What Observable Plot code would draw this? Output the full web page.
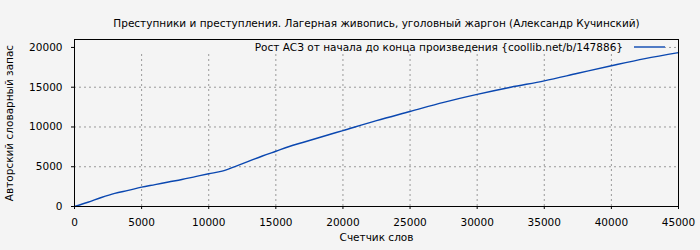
<!DOCTYPE html>
<html>
<head>
<meta charset="utf-8">
<script src="https://cdn.jsdelivr.net/npm/d3@7"></script>
<script src="https://cdn.jsdelivr.net/npm/@observablehq/plot@0.6"></script>
<style>
  html, body { margin: 0; padding: 0; background: #f4f4f4; }
</style>
</head>
<body>
<div id="chart"></div>
<script>
const title = "Преступники и преступления. Лагерная живопись, уголовный жаргон (Александр Кучинский)";
const seriesLabel = "Рост АСЗ от начала до конца произведения {coollib.net/b/147886}";
const xLabel = "Счетчик слов";
const yLabel = "Авторский словарный запас";

const words = [0, 1000, 2000, 3000, 4000, 5000, 6000, 7000, 8000, 9000, 10000, 11000, 12000, 13000, 14000, 15000, 16000, 17000, 18000, 19000, 20000, 22500, 25000, 27500, 30000, 32500, 35000, 37500, 40000, 42500, 45000];
const vocab = [0, 530, 1130, 1650, 2030, 2430, 2750, 3080, 3400, 3760, 4120, 4450, 5050, 5700, 6350, 6950, 7550, 8050, 8550, 9050, 9550, 10800, 11950, 13100, 14100, 15000, 15800, 16750, 17700, 18600, 19350];

const xTicks = [0, 5000, 10000, 15000, 20000, 25000, 30000, 35000, 40000, 45000];
const yTicks = [0, 5000, 10000, 15000, 20000];

const lineColor = "#0a47b0";
const bg = "#f4f4f4";

const data = words.map((w, i) => ({w, v: vocab[i]}));

function legendMark() {
  return (index, scales, values, dims) => {
    const g = d3.create("svg:g");
    const x1 = dims.marginLeft, x2 = dims.width - dims.marginRight;
    const top = dims.marginTop;
    g.append("rect")
      .attr("x", x1 + 1).attr("y", top + 1)
      .attr("width", x2 - 13 - x1 - 1).attr("height", 14)
      .attr("fill", bg);
    g.append("line")
      .attr("x1", x2 - 44).attr("x2", x2 - 13)
      .attr("y1", top + 8).attr("y2", top + 8)
      .attr("stroke", lineColor).attr("stroke-width", 1.4);
    g.append("text")
      .attr("x", x2 - 55).attr("y", top + 8)
      .attr("dy", "0.35em")
      .attr("text-anchor", "end")
      .attr("fill", "#000")
      .text(seriesLabel);
    return g.node();
  };
}

const fmt = d => String(d);

const chart = Plot.plot({
  width: 700,
  height: 250,
  marginTop: 39,
  marginBottom: 44,
  marginLeft: 74,
  marginRight: 22,
  style: {background: bg, fontFamily: "DejaVu Sans", fontSize: "10.5px", color: "#000"},
  x: {domain: [0, 45000], label: null},
  y: {domain: [0, 21000], label: null},
  marks: [
    Plot.gridX(xTicks, {stroke: "#999", strokeOpacity: 1, strokeDasharray: "2,3"}),
    Plot.gridY(yTicks, {stroke: "#999", strokeOpacity: 1, strokeDasharray: "2,3"}),
    legendMark(),
    Plot.axisX(xTicks, {tickFormat: fmt, tickSize: 3, tickPadding: 9, label: null, stroke: "#000"}),
    Plot.axisY(yTicks, {tickFormat: fmt, tickSize: 3, tickPadding: 9, label: null, stroke: "#000"}),
    Plot.line(data, {x: "w", y: "v", stroke: lineColor, strokeWidth: 1.4, curve: "monotone-x"}),
    Plot.frame({stroke: "#000", strokeWidth: 1}),
    Plot.text([title], {frameAnchor: "top", dy: -20, fill: "#000"}),
    Plot.text([xLabel], {frameAnchor: "bottom", dy: 34, fill: "#000"}),
    Plot.text([yLabel], {frameAnchor: "left", dx: -65, rotate: -90, textAnchor: "middle", fill: "#000"})
  ]
});
document.getElementById("chart").appendChild(chart);
</script>
</body>
</html>
